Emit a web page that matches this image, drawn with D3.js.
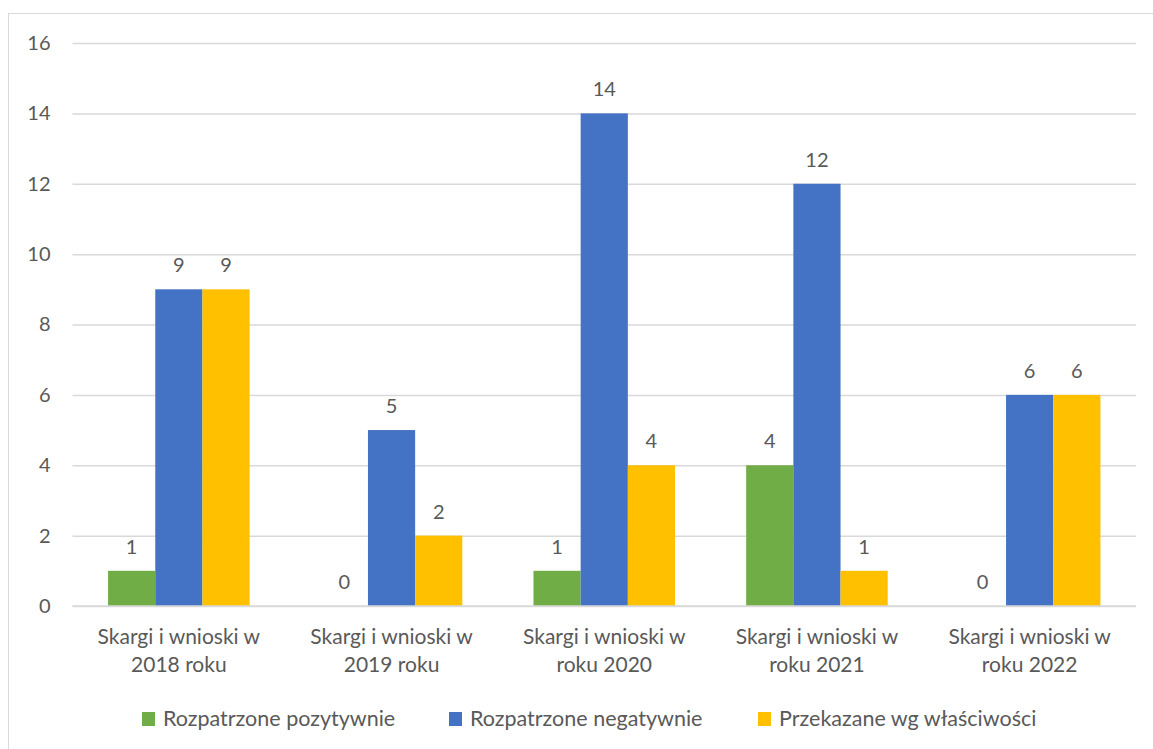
<!DOCTYPE html>
<html>
<head>
<meta charset="utf-8">
<script src="https://cdn.jsdelivr.net/npm/d3@7"></script>
<style>
  html, body { margin: 0; padding: 0; background: #fff; }
  svg { display: block; font-family: Lato, "Open Sans", sans-serif; }
</style>
</head>
<body>
<svg id="chart" width="1153" height="749"></svg>
<script>
const categories = [
  ["Skargi i wnioski w", "2018 roku"],
  ["Skargi i wnioski w", "2019 roku"],
  ["Skargi i wnioski w", "roku 2020"],
  ["Skargi i wnioski w", "roku 2021"],
  ["Skargi i wnioski w", "roku 2022"]
];
const seriesNames = ["Rozpatrzone pozytywnie", "Rozpatrzone negatywnie", "Przekazane wg właściwości"];
const pozytywnie = [1, 0, 1, 4, 0];
const negatywnie = [9, 5, 14, 12, 6];
const przekazane = [9, 2, 4, 1, 6];
const yTicks = [0, 2, 4, 6, 8, 10, 12, 14, 16];
const colors = ["#70AD47", "#4472C4", "#FFC000"];

const seriesValues = [pozytywnie, negatywnie, przekazane];
const catKeys = categories.map((c, i) => i);

const svg = d3.select("#chart");
const textColor = "#595959";
const fontSize = 20;

// outer chart border
svg.append("rect")
  .attr("x", 8.5).attr("y", 13.5)
  .attr("width", 1160).attr("height", 760)
  .attr("fill", "none").attr("stroke", "#d9d9d9").attr("stroke-width", 1);

const plot = { left: 72.5, right: 1136, top: 43, bottom: 606 };

const y = d3.scaleLinear().domain([0, 16]).range([plot.bottom, plot.top]);
const x0 = d3.scaleBand().domain(catKeys).range([plot.left, plot.right]).padding(0);
const x1 = d3.scaleBand().domain(d3.range(seriesNames.length))
  .range([0, x0.bandwidth()]).paddingInner(0).paddingOuter(0.754);

// gridlines
const yAxis = d3.axisLeft(y).tickValues(yTicks).tickSize(-(plot.right - plot.left)).tickPadding(22);
const gAxis = svg.append("g").attr("transform", `translate(${plot.left},0)`).call(yAxis);
gAxis.select(".domain").remove();
gAxis.selectAll(".tick line").attr("stroke", "#d9d9d9").attr("stroke-width", 1.5);
gAxis.selectAll(".tick text")
  .attr("fill", textColor).attr("font-size", fontSize)
  .attr("font-family", "Lato, 'Open Sans', sans-serif");

// bars
const groups = svg.append("g").selectAll("g")
  .data(catKeys).join("g")
  .attr("transform", d => `translate(${x0(d)},0)`);

groups.selectAll("rect")
  .data(ci => seriesValues.map((vals, si) => ({ si, v: vals[ci] })))
  .join("rect")
  .attr("x", d => x1(d.si))
  .attr("width", x1.bandwidth())
  .attr("y", d => y(d.v))
  .attr("height", d => y(0) - y(d.v))
  .attr("fill", d => colors[d.si]);

groups.selectAll("text.val")
  .data(ci => seriesValues.map((vals, si) => ({ si, v: vals[ci] })))
  .join("text")
  .attr("class", "val")
  .attr("x", d => x1(d.si) + x1.bandwidth() / 2)
  .attr("y", d => y(d.v) - 17)
  .attr("text-anchor", "middle")
  .attr("fill", textColor)
  .attr("font-size", fontSize)
  .text(d => d.v);

// baseline on top
svg.append("line")
  .attr("x1", plot.left).attr("x2", plot.right)
  .attr("y1", y(0)).attr("y2", y(0))
  .attr("stroke", "#d9d9d9").attr("stroke-width", 1.5);

// category labels
const catG = svg.append("g");
categories.forEach((lines, i) => {
  const cx = x0(i) + x0.bandwidth() / 2;
  const t = catG.append("text")
    .attr("x", cx)
    .attr("y", 644)
    .attr("text-anchor", "middle")
    .attr("fill", textColor)
    .attr("font-size", 21);
  lines.forEach((ln, j) => {
    t.append("tspan").attr("x", cx).attr("dy", j === 0 ? 0 : 28).text(ln);
  });
});

// legend
const legendX = [142, 449, 758];
const legend = svg.append("g");
seriesNames.forEach((name, i) => {
  legend.append("rect")
    .attr("x", legendX[i]).attr("y", 712)
    .attr("width", 13).attr("height", 14)
    .attr("fill", colors[i]);
  legend.append("text")
    .attr("x", legendX[i] + 21).attr("y", 726)
    .attr("fill", textColor).attr("font-size", 21.5)
    .text(name);
});
</script>
</body>
</html>
